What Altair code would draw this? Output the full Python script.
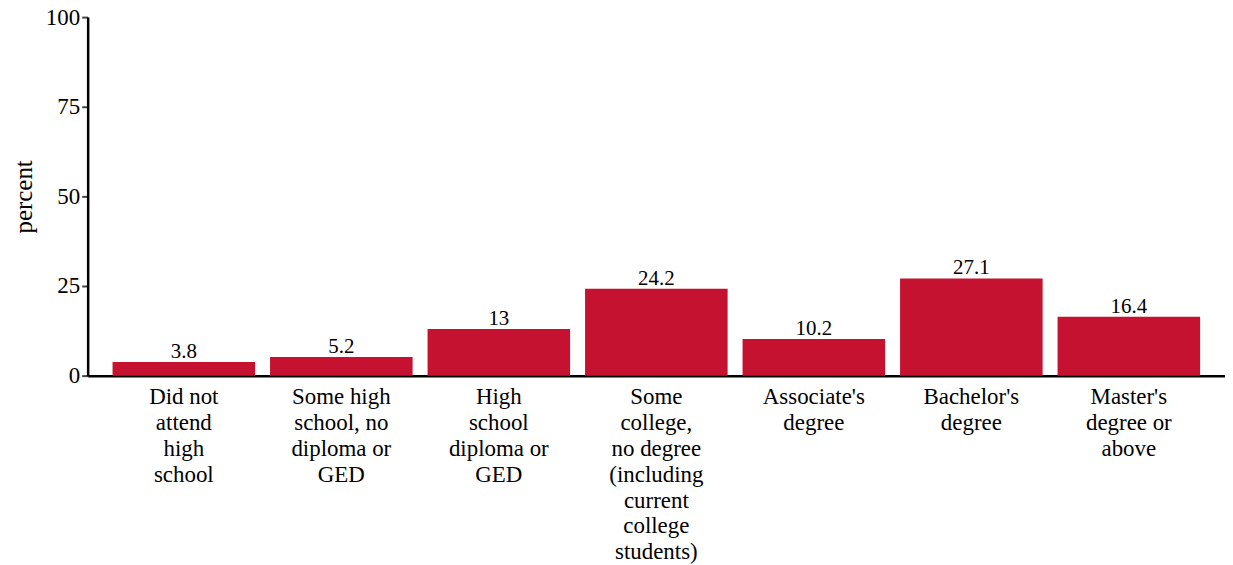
import altair as alt
import pandas as pd

categories = [
    "Did not\nattend\nhigh\nschool",
    "Some high\nschool, no\ndiploma or\nGED",
    "High\nschool\ndiploma or\nGED",
    "Some\ncollege,\nno degree\n(including\ncurrent\ncollege\nstudents)",
    "Associate's\ndegree",
    "Bachelor's\ndegree",
    "Master's\ndegree or\nabove",
]
values = [3.8, 5.2, 13, 24.2, 10.2, 27.1, 16.4]
labels = ["3.8", "5.2", "13", "24.2", "10.2", "27.1", "16.4"]

df = pd.DataFrame({"cat": categories, "value": values, "label": labels})

FONT = "Liberation Serif"

x = alt.X("cat:N", sort=categories, title=None,
          scale=alt.Scale(paddingInner=0.095, paddingOuter=0.158),
          axis=alt.Axis(labelAngle=0, labelExpr="split(datum.label, '\\n')",
                        labelFontSize=23, labelLineHeight=26, labelFont=FONT,
                        labelColor="black", ticks=False, labelPadding=10,
                        domainColor="black", domainWidth=2.5, labelLimit=300,
                        grid=False))
y = alt.Y("value:Q", title="percent",
          scale=alt.Scale(domain=[0, 100], nice=False),
          axis=alt.Axis(values=[0, 25, 50, 75, 100], grid=False, labelFontSize=23,
                        labelFont=FONT, labelColor="black", titleFont=FONT,
                        titleFontSize=25, titleFontWeight="normal", titleColor="black",
                        domainColor="black", domainWidth=2.5, tickColor="#444444",
                        tickSize=6, tickWidth=2, labelPadding=2, titlePadding=9))

bars = alt.Chart(df).mark_bar(color="#C41230").encode(x=x, y=y)
text = alt.Chart(df).mark_text(baseline="bottom", dy=0, fontSize=21, font=FONT,
                               color="black").encode(x=x, y=y, text="label:N")

chart = (bars + text).properties(
    width=1142, height=360,
    padding={"left": 3, "top": -3, "right": 0, "bottom": 0},
).configure_view(strokeWidth=0)

chart.save("out.html", embed_options={"renderer": "svg", "actions": False})
